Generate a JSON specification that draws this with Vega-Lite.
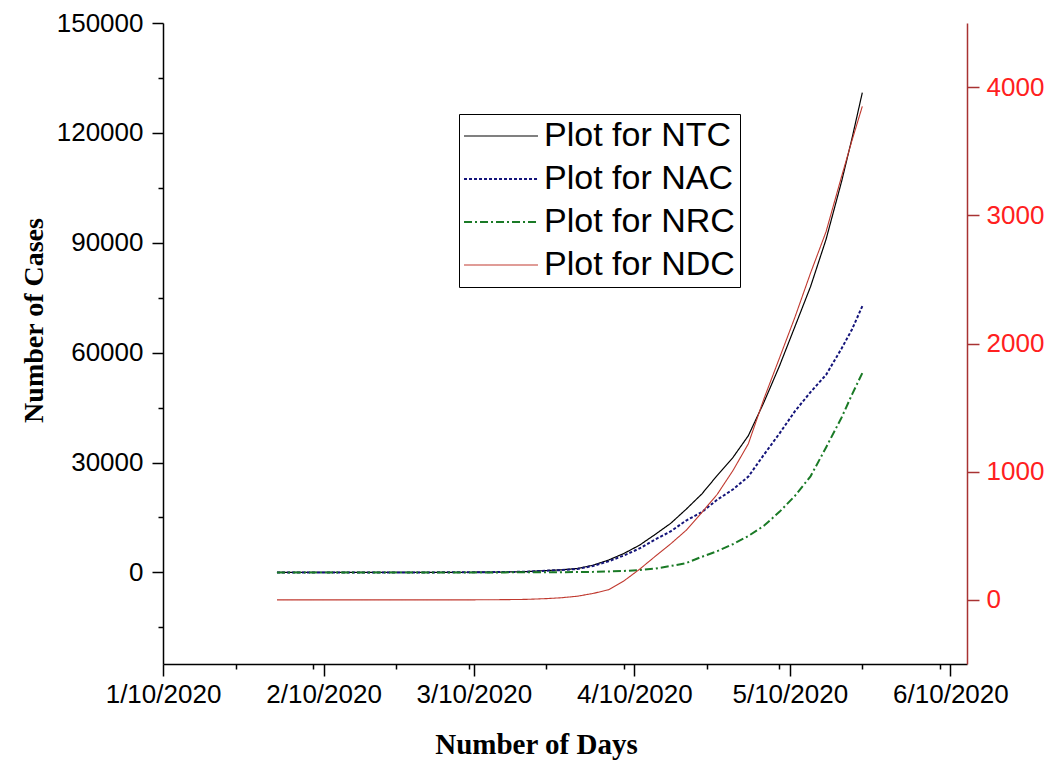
{
  "$schema": "https://vega.github.io/schema/vega-lite/v6.json",
  "width": 804,
  "height": 641,
  "autosize": "none",
  "padding": {"left": 163, "top": 23, "right": 91, "bottom": 104},
  "background": "white",
  "config": {"view": {"stroke": null}, "font": "Liberation Sans"},
  "datasets": {
    "covid": [
      {"date": "2020-02-01", "series": "Plot for NTC", "value": 1},
      {"date": "2020-02-03", "series": "Plot for NTC", "value": 3},
      {"date": "2020-02-10", "series": "Plot for NTC", "value": 3},
      {"date": "2020-02-20", "series": "Plot for NTC", "value": 3},
      {"date": "2020-03-01", "series": "Plot for NTC", "value": 3},
      {"date": "2020-03-04", "series": "Plot for NTC", "value": 28},
      {"date": "2020-03-08", "series": "Plot for NTC", "value": 39},
      {"date": "2020-03-12", "series": "Plot for NTC", "value": 73},
      {"date": "2020-03-16", "series": "Plot for NTC", "value": 114},
      {"date": "2020-03-20", "series": "Plot for NTC", "value": 223},
      {"date": "2020-03-24", "series": "Plot for NTC", "value": 519},
      {"date": "2020-03-27", "series": "Plot for NTC", "value": 724},
      {"date": "2020-03-30", "series": "Plot for NTC", "value": 1071},
      {"date": "2020-04-02", "series": "Plot for NTC", "value": 1965},
      {"date": "2020-04-05", "series": "Plot for NTC", "value": 3374},
      {"date": "2020-04-08", "series": "Plot for NTC", "value": 5194},
      {"date": "2020-04-11", "series": "Plot for NTC", "value": 7447},
      {"date": "2020-04-14", "series": "Plot for NTC", "value": 10363},
      {"date": "2020-04-17", "series": "Plot for NTC", "value": 13387},
      {"date": "2020-04-20", "series": "Plot for NTC", "value": 17265},
      {"date": "2020-04-23", "series": "Plot for NTC", "value": 21393},
      {"date": "2020-04-26", "series": "Plot for NTC", "value": 26496},
      {"date": "2020-04-29", "series": "Plot for NTC", "value": 31332},
      {"date": "2020-05-02", "series": "Plot for NTC", "value": 37336},
      {"date": "2020-05-05", "series": "Plot for NTC", "value": 46433},
      {"date": "2020-05-08", "series": "Plot for NTC", "value": 56342},
      {"date": "2020-05-11", "series": "Plot for NTC", "value": 67152},
      {"date": "2020-05-14", "series": "Plot for NTC", "value": 78003},
      {"date": "2020-05-17", "series": "Plot for NTC", "value": 90927},
      {"date": "2020-05-20", "series": "Plot for NTC", "value": 106750},
      {"date": "2020-05-22", "series": "Plot for NTC", "value": 118447},
      {"date": "2020-05-24", "series": "Plot for NTC", "value": 131000},

      {"date": "2020-02-01", "series": "Plot for NAC", "value": 1},
      {"date": "2020-02-03", "series": "Plot for NAC", "value": 3},
      {"date": "2020-02-10", "series": "Plot for NAC", "value": 3},
      {"date": "2020-02-20", "series": "Plot for NAC", "value": 0},
      {"date": "2020-03-01", "series": "Plot for NAC", "value": 0},
      {"date": "2020-03-04", "series": "Plot for NAC", "value": 25},
      {"date": "2020-03-08", "series": "Plot for NAC", "value": 36},
      {"date": "2020-03-12", "series": "Plot for NAC", "value": 68},
      {"date": "2020-03-16", "series": "Plot for NAC", "value": 99},
      {"date": "2020-03-20", "series": "Plot for NAC", "value": 196},
      {"date": "2020-03-24", "series": "Plot for NAC", "value": 469},
      {"date": "2020-03-27", "series": "Plot for NAC", "value": 640},
      {"date": "2020-03-30", "series": "Plot for NAC", "value": 942},
      {"date": "2020-04-02", "series": "Plot for NAC", "value": 1764},
      {"date": "2020-04-05", "series": "Plot for NAC", "value": 3028},
      {"date": "2020-04-08", "series": "Plot for NAC", "value": 4643},
      {"date": "2020-04-11", "series": "Plot for NAC", "value": 6565},
      {"date": "2020-04-14", "series": "Plot for NAC", "value": 8988},
      {"date": "2020-04-17", "series": "Plot for NAC", "value": 11201},
      {"date": "2020-04-20", "series": "Plot for NAC", "value": 14175},
      {"date": "2020-04-23", "series": "Plot for NAC", "value": 16454},
      {"date": "2020-04-26", "series": "Plot for NAC", "value": 19868},
      {"date": "2020-04-29", "series": "Plot for NAC", "value": 22629},
      {"date": "2020-05-02", "series": "Plot for NAC", "value": 26167},
      {"date": "2020-05-05", "series": "Plot for NAC", "value": 32138},
      {"date": "2020-05-08", "series": "Plot for NAC", "value": 37916},
      {"date": "2020-05-11", "series": "Plot for NAC", "value": 44029},
      {"date": "2020-05-14", "series": "Plot for NAC", "value": 49219},
      {"date": "2020-05-17", "series": "Plot for NAC", "value": 53946},
      {"date": "2020-05-20", "series": "Plot for NAC", "value": 61149},
      {"date": "2020-05-22", "series": "Plot for NAC", "value": 66330},
      {"date": "2020-05-24", "series": "Plot for NAC", "value": 72700},

      {"date": "2020-02-01", "series": "Plot for NRC", "value": 0},
      {"date": "2020-02-03", "series": "Plot for NRC", "value": 0},
      {"date": "2020-02-10", "series": "Plot for NRC", "value": 0},
      {"date": "2020-02-20", "series": "Plot for NRC", "value": 3},
      {"date": "2020-03-01", "series": "Plot for NRC", "value": 3},
      {"date": "2020-03-04", "series": "Plot for NRC", "value": 3},
      {"date": "2020-03-08", "series": "Plot for NRC", "value": 3},
      {"date": "2020-03-12", "series": "Plot for NRC", "value": 4},
      {"date": "2020-03-16", "series": "Plot for NRC", "value": 13},
      {"date": "2020-03-20", "series": "Plot for NRC", "value": 23},
      {"date": "2020-03-24", "series": "Plot for NRC", "value": 40},
      {"date": "2020-03-27", "series": "Plot for NRC", "value": 67},
      {"date": "2020-03-30", "series": "Plot for NRC", "value": 100},
      {"date": "2020-04-02", "series": "Plot for NRC", "value": 151},
      {"date": "2020-04-05", "series": "Plot for NRC", "value": 267},
      {"date": "2020-04-08", "series": "Plot for NRC", "value": 402},
      {"date": "2020-04-11", "series": "Plot for NRC", "value": 643},
      {"date": "2020-04-14", "series": "Plot for NRC", "value": 1036},
      {"date": "2020-04-17", "series": "Plot for NRC", "value": 1749},
      {"date": "2020-04-20", "series": "Plot for NRC", "value": 2547},
      {"date": "2020-04-23", "series": "Plot for NRC", "value": 4258},
      {"date": "2020-04-26", "series": "Plot for NRC", "value": 5804},
      {"date": "2020-04-29", "series": "Plot for NRC", "value": 7696},
      {"date": "2020-05-02", "series": "Plot for NRC", "value": 9951},
      {"date": "2020-05-05", "series": "Plot for NRC", "value": 12727},
      {"date": "2020-05-08", "series": "Plot for NRC", "value": 16540},
      {"date": "2020-05-11", "series": "Plot for NRC", "value": 20917},
      {"date": "2020-05-14", "series": "Plot for NRC", "value": 26235},
      {"date": "2020-05-17", "series": "Plot for NRC", "value": 34109},
      {"date": "2020-05-20", "series": "Plot for NRC", "value": 42298},
      {"date": "2020-05-22", "series": "Plot for NRC", "value": 48534},
      {"date": "2020-05-24", "series": "Plot for NRC", "value": 54441},

      {"date": "2020-02-01", "series": "Plot for NDC", "value": 0},
      {"date": "2020-02-03", "series": "Plot for NDC", "value": 0},
      {"date": "2020-02-10", "series": "Plot for NDC", "value": 0},
      {"date": "2020-02-20", "series": "Plot for NDC", "value": 0},
      {"date": "2020-03-01", "series": "Plot for NDC", "value": 0},
      {"date": "2020-03-04", "series": "Plot for NDC", "value": 0},
      {"date": "2020-03-08", "series": "Plot for NDC", "value": 0},
      {"date": "2020-03-12", "series": "Plot for NDC", "value": 1},
      {"date": "2020-03-16", "series": "Plot for NDC", "value": 2},
      {"date": "2020-03-20", "series": "Plot for NDC", "value": 4},
      {"date": "2020-03-24", "series": "Plot for NDC", "value": 10},
      {"date": "2020-03-27", "series": "Plot for NDC", "value": 17},
      {"date": "2020-03-30", "series": "Plot for NDC", "value": 29},
      {"date": "2020-04-02", "series": "Plot for NDC", "value": 50},
      {"date": "2020-04-05", "series": "Plot for NDC", "value": 79},
      {"date": "2020-04-08", "series": "Plot for NDC", "value": 149},
      {"date": "2020-04-11", "series": "Plot for NDC", "value": 239},
      {"date": "2020-04-14", "series": "Plot for NDC", "value": 339},
      {"date": "2020-04-17", "series": "Plot for NDC", "value": 437},
      {"date": "2020-04-20", "series": "Plot for NDC", "value": 543},
      {"date": "2020-04-23", "series": "Plot for NDC", "value": 681},
      {"date": "2020-04-26", "series": "Plot for NDC", "value": 824},
      {"date": "2020-04-29", "series": "Plot for NDC", "value": 1007},
      {"date": "2020-05-02", "series": "Plot for NDC", "value": 1218},
      {"date": "2020-05-05", "series": "Plot for NDC", "value": 1568},
      {"date": "2020-05-08", "series": "Plot for NDC", "value": 1886},
      {"date": "2020-05-11", "series": "Plot for NDC", "value": 2206},
      {"date": "2020-05-14", "series": "Plot for NDC", "value": 2549},
      {"date": "2020-05-17", "series": "Plot for NDC", "value": 2872},
      {"date": "2020-05-20", "series": "Plot for NDC", "value": 3303},
      {"date": "2020-05-22", "series": "Plot for NDC", "value": 3583},
      {"date": "2020-05-24", "series": "Plot for NDC", "value": 3850}
    ]
  },
  "data": {"name": "covid"},
  "encoding": {
    "x": {
      "field": "date",
      "type": "temporal",
      "scale": {
        "type": "utc",
        "domain": [
          {"year": 2020, "month": 1, "date": 10, "utc": true},
          {"year": 2020, "month": 6, "date": 13, "hours": 5, "utc": true}
        ]
      },
      "axis": {
        "orient": "bottom",
        "values": [
          {"year": 2020, "month": 1, "date": 10, "utc": true},
          {"year": 2020, "month": 1, "date": 24, "utc": true},
          {"year": 2020, "month": 2, "date": 8, "utc": true},
          {"year": 2020, "month": 2, "date": 10, "utc": true},
          {"year": 2020, "month": 2, "date": 24, "utc": true},
          {"year": 2020, "month": 3, "date": 9, "utc": true},
          {"year": 2020, "month": 3, "date": 10, "utc": true},
          {"year": 2020, "month": 3, "date": 24, "utc": true},
          {"year": 2020, "month": 4, "date": 8, "utc": true},
          {"year": 2020, "month": 4, "date": 10, "utc": true},
          {"year": 2020, "month": 4, "date": 24, "utc": true},
          {"year": 2020, "month": 5, "date": 8, "utc": true},
          {"year": 2020, "month": 5, "date": 10, "utc": true},
          {"year": 2020, "month": 5, "date": 24, "utc": true},
          {"year": 2020, "month": 6, "date": 8, "utc": true},
          {"year": 2020, "month": 6, "date": 10, "utc": true}
        ],
        "labelExpr": "utcdate(datum.value) === 10 ? utcFormat(datum.value, '%-m/%-d/%Y') : ''",
        "tickSize": {"condition": {"test": "utcdate(datum.value) === 10", "value": 12}, "value": 5},
        "tickColor": "#000000",
        "tickWidth": 1.5,
        "domainColor": "#000000",
        "domainWidth": 1.5,
        "labelFontSize": 26,
        "labelColor": "#000000",
        "labelPadding": 5,
        "labelOverlap": false,
        "labelFlush": false,
        "grid": false,
        "title": "Number of Days",
        "titleFont": "Liberation Serif",
        "titleFontSize": 29,
        "titleFontWeight": "bold",
        "titleColor": "#000000",
        "titleX": 373,
        "titleY": 89,
        "titleAlign": "center",
        "titleBaseline": "alphabetic",
        "titleAnchor": null
      }
    },
    "color": {
      "field": "series",
      "type": "nominal",
      "scale": {
        "domain": ["Plot for NTC", "Plot for NAC", "Plot for NRC", "Plot for NDC"],
        "range": ["#000000", "#14147a", "#1a7a26", "#c0392f"]
      },
      "legend": {
        "orient": "none",
        "legendX": 296,
        "legendY": 91,
        "title": null,
        "strokeColor": "#000000",
        "padding": 5,
        "symbolType": "M-4,0H4",
        "symbolSize": 342,
        "symbolStrokeWidth": 1.5,
        "symbolOffset": 20,
        "labelOffset": 26,
        "labelFontSize": 34,
        "labelColor": "#000000",
        "labelLimit": 400,
        "rowPadding": 9
      }
    },
    "strokeDash": {
      "field": "series",
      "type": "nominal",
      "scale": {
        "domain": ["Plot for NTC", "Plot for NAC", "Plot for NRC", "Plot for NDC"],
        "range": [[1, 0], [3, 2], [8, 3, 2, 3], [1, 0]]
      },
      "legend": {
        "orient": "none",
        "legendX": 296,
        "legendY": 91,
        "title": null,
        "strokeColor": "#000000",
        "padding": 5,
        "symbolType": "M-4,0H4",
        "symbolSize": 342,
        "symbolStrokeWidth": 1.5,
        "symbolOffset": 20,
        "labelOffset": 26,
        "labelFontSize": 34,
        "labelColor": "#000000",
        "labelLimit": 400,
        "rowPadding": 9
      }
    },
    "strokeWidth": {
      "field": "series",
      "type": "nominal",
      "scale": {
        "type": "ordinal",
        "domain": ["Plot for NTC", "Plot for NAC", "Plot for NRC", "Plot for NDC"],
        "range": [1.2, 2, 2, 1.1]
      },
      "legend": null
    }
  },
  "layer": [
    {
      "transform": [{"filter": "datum.series !== 'Plot for NDC'"}],
      "mark": {"type": "line"},
      "encoding": {
        "y": {
          "field": "value",
          "type": "quantitative",
          "scale": {"domain": [-25000, 150000], "nice": false, "zero": false},
          "axis": {
            "orient": "left",
            "values": [-15000, 0, 15000, 30000, 45000, 60000, 75000, 90000, 105000, 120000, 135000, 150000],
            "format": "d",
            "labelExpr": "datum.value % 30000 === 0 ? datum.label : ''",
            "tickSize": {"condition": {"test": "datum.value % 30000 === 0", "value": 11}, "value": 5},
            "tickColor": "#000000",
            "tickWidth": 1.5,
            "domainColor": "#000000",
            "domainWidth": 1.5,
            "labelFontSize": 26,
            "labelColor": "#000000",
            "labelPadding": 9,
            "grid": false,
            "title": "Number of Cases",
            "titleFont": "Liberation Serif",
            "titleFontSize": 28,
            "titleFontWeight": "bold",
            "titleColor": "#000000",
            "titleAngle": -90,
            "titleX": -121,
            "titleY": 297,
            "titleAlign": "center",
            "titleBaseline": "alphabetic",
            "titleAnchor": null
          }
        }
      }
    },
    {
      "transform": [{"filter": "datum.series === 'Plot for NDC'"}],
      "mark": {"type": "line"},
      "encoding": {
        "y": {
          "field": "value",
          "type": "quantitative",
          "scale": {"domain": [-500, 4500], "nice": false, "zero": false},
          "axis": {
            "orient": "right",
            "values": [0, 1000, 2000, 3000, 4000],
            "format": "d",
            "tickSize": 12,
            "tickColor": "#a83232",
            "tickWidth": 1.5,
            "domainColor": "#a83232",
            "domainWidth": 1.5,
            "labelFontSize": 26,
            "labelColor": "#ff2020",
            "labelPadding": 7,
            "grid": false,
            "title": null
          }
        }
      }
    }
  ],
  "resolve": {"scale": {"y": "independent"}}
}
